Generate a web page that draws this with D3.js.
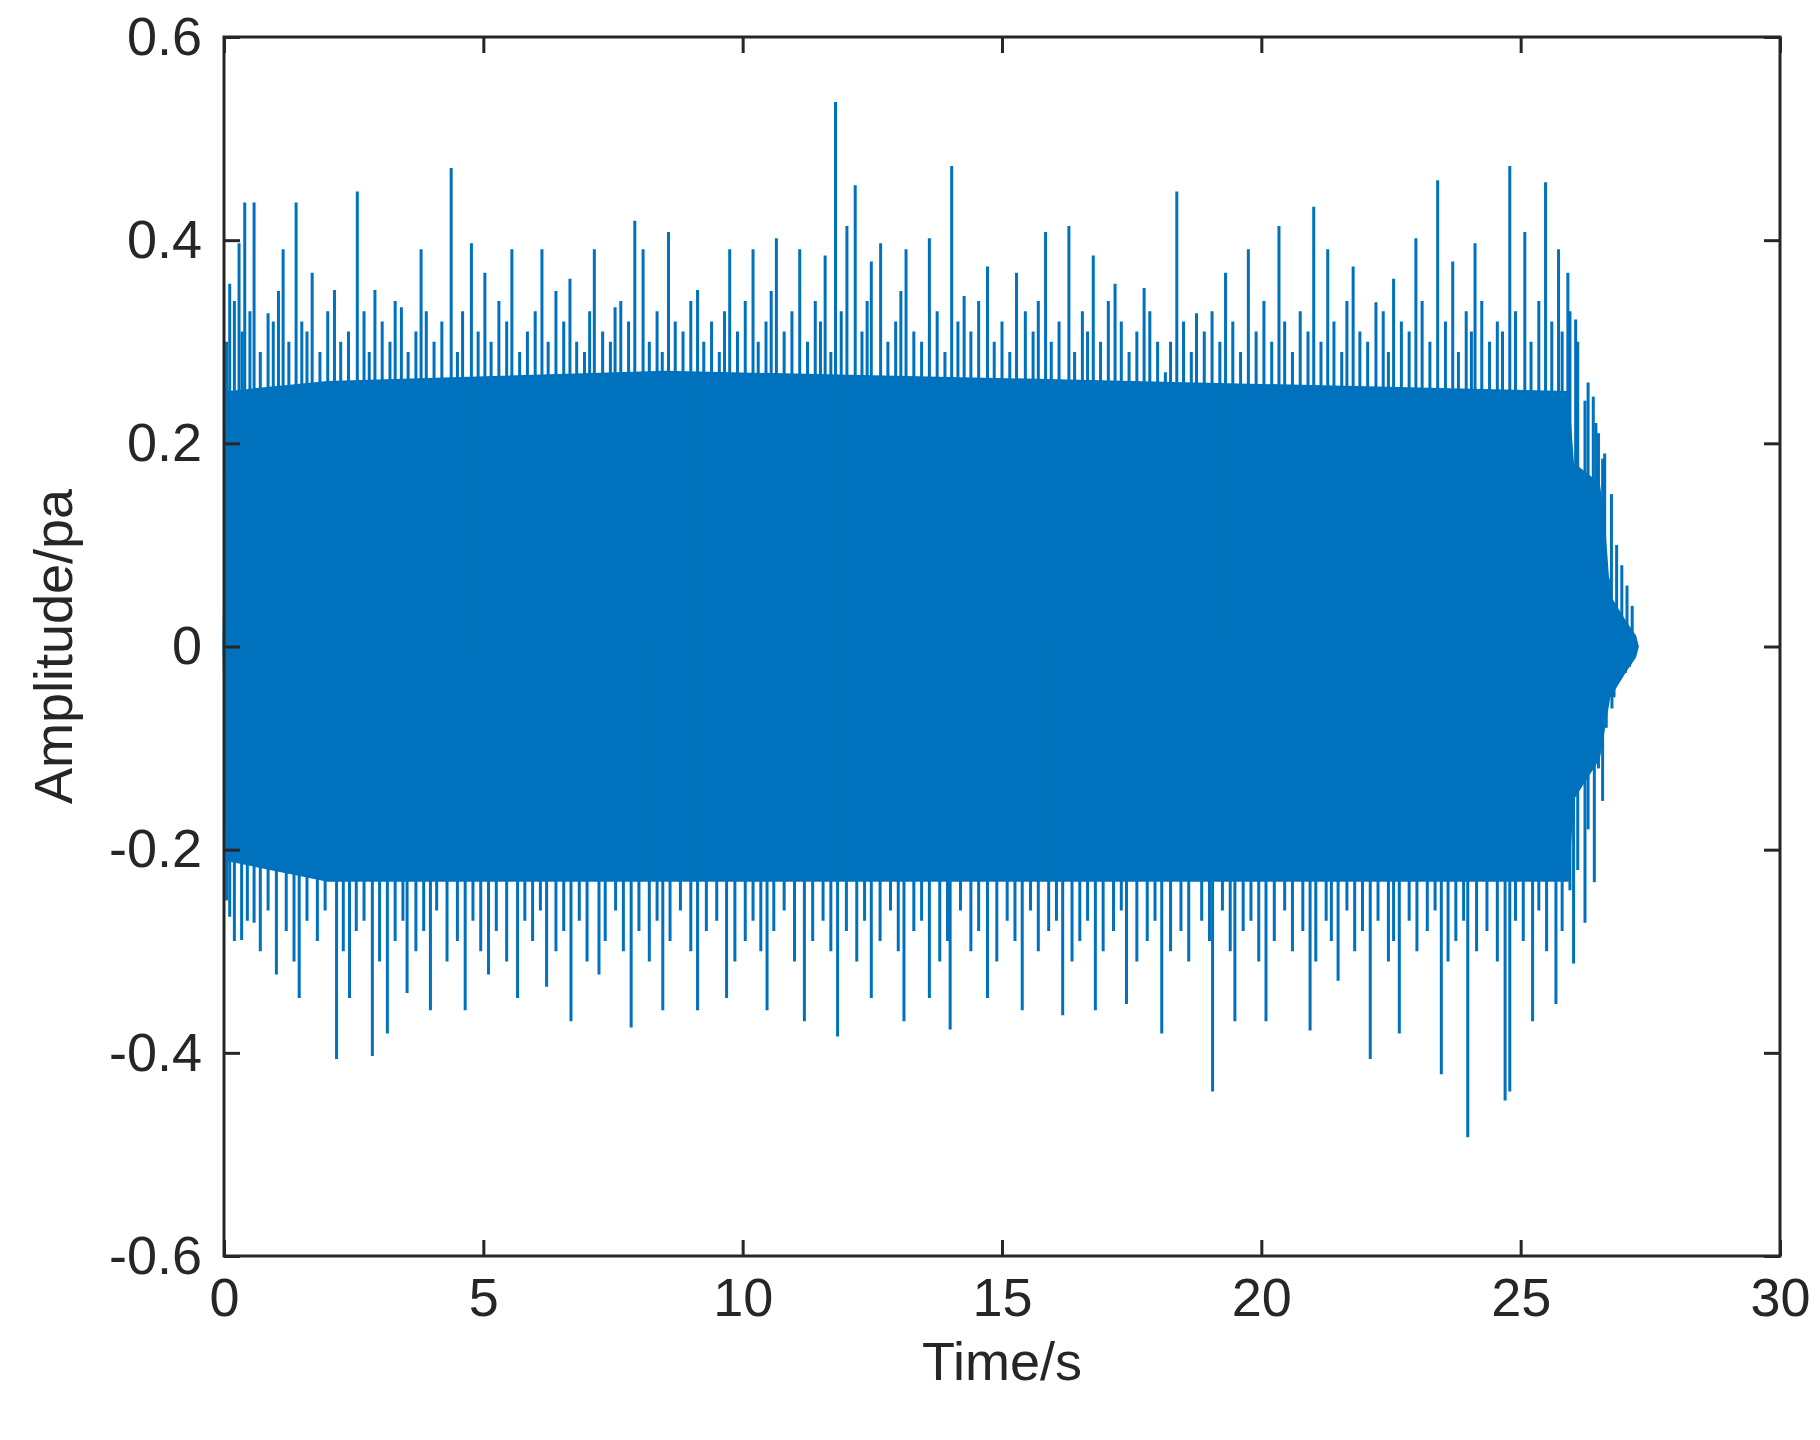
<!DOCTYPE html><html><head><meta charset="utf-8"><script src="https://cdn.jsdelivr.net/npm/d3@7"></script>
<style>body{margin:0;background:#fff}text{font-family:"Liberation Sans",Arial,sans-serif;fill:#262626}</style></head><body><svg id="c" width="1820" height="1440"></svg><script>
const xTicks=[0,5,10,15,20,25,30];
const yTicks=[-0.6,-0.4,-0.2,0,0.2,0.4,0.6];
const upT=[0.11,0.29,0.40,0.58,0.85,1.14,1.39,1.70,2.13,2.57,2.91,3.42,3.80,4.38,4.77,5.03,5.55,6.13,6.67,7.14,7.54,7.92,8.08,8.57,9.13,9.75,10.20,10.65,11.10,11.59,11.79,12.01,12.17,12.48,12.66,13.15,13.60,14.03,14.27,14.72,15.28,15.84,16.29,16.76,17.18,17.74,18.37,18.75,19.31,19.75,20.34,21.01,21.28,21.77,22.21,22.55,22.98,23.40,23.69,24.12,24.79,25.08,25.48,25.73,25.91,26.06,26.24,26.40,26.58,26.69];
const upV=[0.357,0.397,0.437,0.437,0.328,0.391,0.437,0.368,0.351,0.448,0.351,0.334,0.391,0.471,0.397,0.368,0.391,0.391,0.362,0.391,0.334,0.419,0.391,0.408,0.351,0.391,0.391,0.402,0.391,0.385,0.536,0.414,0.454,0.379,0.397,0.391,0.402,0.473,0.345,0.374,0.368,0.408,0.414,0.385,0.357,0.353,0.448,0.328,0.368,0.391,0.414,0.433,0.391,0.374,0.339,0.362,0.402,0.459,0.379,0.397,0.473,0.408,0.457,0.391,0.368,0.322,0.242,0.246,0.185,0.067];
const loT=[0.11,0.34,0.58,1.01,1.45,2.17,2.42,2.86,3.15,3.53,3.98,4.65,5.10,5.66,6.22,6.69,7.23,7.85,8.46,9.13,9.69,10.47,11.19,11.83,12.48,13.11,13.60,14.00,14.72,15.39,16.17,16.80,17.40,18.08,19.06,19.49,20.09,20.94,21.48,22.10,22.66,23.47,23.98,24.70,24.79,25.23,25.68,26.02,26.24,26.42,26.58,26.76,27.02];
const loV=[-0.266,-0.289,-0.272,-0.323,-0.346,-0.406,-0.346,-0.403,-0.381,-0.341,-0.358,-0.358,-0.323,-0.346,-0.335,-0.369,-0.323,-0.375,-0.358,-0.358,-0.346,-0.358,-0.369,-0.384,-0.346,-0.369,-0.346,-0.377,-0.346,-0.358,-0.363,-0.358,-0.352,-0.381,-0.438,-0.369,-0.369,-0.378,-0.329,-0.406,-0.381,-0.421,-0.483,-0.447,-0.438,-0.369,-0.352,-0.312,-0.272,-0.232,-0.152,-0.061,-0.026];
// moderate peaks forming the ragged edge of the dense band
const midUpT=[0.05,0.2,0.35,0.5,0.7,0.95,1.05,1.25,1.5,1.6,1.85,2.0,2.25,2.4,2.7,2.8,3.05,3.2,3.3,3.55,3.7,3.9,4.05,4.2,4.5,4.6,4.9,5.15,5.3,5.45,5.7,5.85,6.0,6.25,6.4,6.55,6.8,6.95,7.05,7.3,7.45,7.65,7.8,8.2,8.35,8.45,8.7,8.85,9.0,9.25,9.4,9.55,9.65,9.9,10.05,10.3,10.45,10.55,10.8,10.95,11.25,11.4,11.5,11.7,11.9,12.3,12.4,12.8,12.95,13.05,13.3,13.45,13.75,13.9,14.15,14.4,14.55,14.85,15.0,15.15,15.45,15.6,15.7,15.95,16.1,16.4,16.55,16.65,16.9,17.05,17.3,17.45,17.6,17.85,18.0,18.15,18.25,18.5,18.65,18.9,19.05,19.2,19.45,19.6,19.9,20.05,20.2,20.45,20.6,20.75,20.9,21.15,21.4,21.55,21.65,21.9,22.05,22.35,22.45,22.7,22.85,23.1,23.25,23.55,23.8,23.95,24.05,24.25,24.4,24.55,24.65,24.9,25.2,25.35,25.6,25.8,25.95,26.1,26.3,26.45,26.5,26.62,26.75,26.85,26.95,27.05,27.15];
const midUpV=[0.30,0.34,0.31,0.33,0.29,0.32,0.35,0.30,0.32,0.31,0.29,0.33,0.30,0.31,0.33,0.29,0.32,0.30,0.34,0.29,0.31,0.33,0.30,0.32,0.29,0.33,0.31,0.30,0.34,0.32,0.29,0.31,0.33,0.30,0.35,0.32,0.30,0.29,0.33,0.31,0.30,0.34,0.32,0.30,0.33,0.29,0.32,0.31,0.34,0.30,0.32,0.29,0.33,0.31,0.34,0.30,0.32,0.35,0.31,0.33,0.30,0.34,0.32,0.29,0.33,0.31,0.34,0.30,0.32,0.35,0.31,0.30,0.33,0.29,0.32,0.31,0.34,0.30,0.32,0.29,0.33,0.31,0.34,0.30,0.32,0.29,0.33,0.31,0.30,0.34,0.32,0.29,0.31,0.33,0.30,0.27,0.30,0.32,0.29,0.31,0.33,0.30,0.32,0.29,0.31,0.34,0.30,0.32,0.29,0.33,0.31,0.30,0.32,0.29,0.34,0.31,0.30,0.33,0.29,0.32,0.31,0.34,0.30,0.32,0.29,0.33,0.31,0.34,0.30,0.32,0.31,0.33,0.30,0.34,0.32,0.31,0.33,0.30,0.26,0.22,0.21,0.19,0.15,0.10,0.08,0.06,0.04,0.03,0.02];
const midLoT=[0.05,0.2,0.45,0.7,0.85,1.2,1.35,1.6,1.8,1.95,2.3,2.55,2.7,3.0,3.3,3.45,3.7,3.85,4.1,4.3,4.5,4.8,4.95,5.25,5.45,5.8,5.95,6.1,6.4,6.55,6.85,7.0,7.35,7.55,7.7,8.0,8.2,8.35,8.6,8.8,9.0,9.3,9.5,9.85,10.05,10.2,10.35,10.6,10.8,11.0,11.35,11.55,11.7,12.0,12.2,12.35,12.65,12.85,13.0,13.3,13.45,13.8,13.95,14.2,14.4,14.55,14.9,15.1,15.25,15.55,15.7,15.9,16.05,16.35,16.5,16.65,16.95,17.15,17.3,17.6,17.8,17.95,18.25,18.45,18.6,18.85,19.0,19.25,19.4,19.65,19.8,19.95,20.25,20.45,20.6,20.8,21.05,21.25,21.35,21.65,21.8,21.95,22.25,22.45,22.55,22.85,23.0,23.2,23.35,23.6,23.75,23.9,24.15,24.35,24.55,24.9,25.05,25.35,25.5,25.8,25.95,26.1,26.3,26.5,26.65,26.8,26.9,27.1];
const midLoV=[-0.25,-0.29,-0.27,-0.30,-0.26,-0.28,-0.31,-0.27,-0.29,-0.26,-0.30,-0.28,-0.27,-0.31,-0.29,-0.27,-0.30,-0.28,-0.26,-0.31,-0.29,-0.27,-0.30,-0.28,-0.31,-0.27,-0.29,-0.26,-0.30,-0.28,-0.27,-0.31,-0.29,-0.26,-0.30,-0.28,-0.31,-0.27,-0.29,-0.26,-0.30,-0.28,-0.27,-0.31,-0.29,-0.27,-0.30,-0.28,-0.26,-0.31,-0.29,-0.27,-0.30,-0.28,-0.31,-0.27,-0.29,-0.26,-0.30,-0.28,-0.27,-0.31,-0.29,-0.26,-0.30,-0.28,-0.31,-0.27,-0.29,-0.26,-0.30,-0.28,-0.27,-0.31,-0.29,-0.27,-0.30,-0.28,-0.26,-0.31,-0.29,-0.27,-0.30,-0.28,-0.31,-0.27,-0.29,-0.26,-0.30,-0.28,-0.27,-0.31,-0.29,-0.26,-0.30,-0.28,-0.31,-0.27,-0.29,-0.26,-0.30,-0.28,-0.27,-0.31,-0.29,-0.27,-0.30,-0.28,-0.26,-0.31,-0.29,-0.27,-0.30,-0.28,-0.31,-0.27,-0.29,-0.26,-0.30,-0.28,-0.24,-0.22,-0.18,-0.12,-0.08,-0.05,-0.03,-0.02];
const coreT=[0,0.07,2,8.5,17.5,25.9,26.0,26.5,26.6,26.7,27.0,27.2,27.25];
const coreHi=[0,0.25,0.26,0.27,0.26,0.25,0.18,0.16,0.12,0.05,0.025,0.01,0];
const coreLo=[0,-0.21,-0.23,-0.23,-0.23,-0.23,-0.15,-0.11,-0.08,-0.05,-0.025,-0.01,0];

const L=224,R=1780,T=37,B=1256;
const x=d3.scaleLinear().domain([0,30]).range([L,R]);
const y=d3.scaleLinear().domain([-0.6,0.6]).range([B,T]);
const svg=d3.select("#c");
const col="#0072BD";
const core=coreT.map((t,i)=>({t,h:coreHi[i],l:coreLo[i]}));
svg.append("path").datum(core).attr("fill",col).attr("stroke",col).attr("stroke-width",3)
 .attr("d",d3.area().x(d=>x(d.t)).y0(d=>y(d.l)).y1(d=>y(d.h)));
const spikes=upT.map((t,i)=>[t,upV[i]]).concat(loT.map((t,i)=>[t,loV[i]]),
  midUpT.map((t,i)=>[t,midUpV[i]]),midLoT.map((t,i)=>[t,midLoV[i]]));
const ln=d3.line().x(d=>x(d[0])).y(d=>y(d[1]));
svg.selectAll(".s").data(spikes).enter().append("path").attr("fill","none").attr("stroke",col).attr("stroke-width",3)
 .attr("d",d=>ln([[d[0],0],[d[0],d[1]]]));
const g=svg.append("g");
const tl=16;
const ax=(a,tr)=>g.append("g").attr("transform",tr).call(a).call(s=>{s.select(".domain").remove();s.selectAll("line").attr("stroke","#262626").attr("stroke-width",3);s.selectAll("text").attr("font-size",54).style("fill","#262626");});
ax(d3.axisBottom(x).tickValues(xTicks).tickSize(-tl).tickPadding(22).tickFormat(d3.format("d")),`translate(0,${B})`);
ax(d3.axisTop(x).tickValues(xTicks).tickSize(-tl).tickFormat(""),`translate(0,${T})`);
ax(d3.axisLeft(y).tickValues(yTicks).tickSize(-tl).tickPadding(22).tickFormat(d=>d===0?"0":(d<0?"-":"")+d3.format(".1f")(Math.abs(d))),`translate(${L},0)`);
ax(d3.axisRight(y).tickValues(yTicks).tickSize(-tl).tickFormat(""),`translate(${R},0)`);
g.append("rect").attr("x",L).attr("y",T).attr("width",R-L).attr("height",B-T).attr("fill","none").attr("stroke","#262626").attr("stroke-width",3);
svg.append("text").attr("x",(L+R)/2).attr("y",1380).attr("text-anchor","middle").attr("font-size",54).text("Time/s");
svg.append("text").attr("transform",`translate(72,${(T+B)/2}) rotate(-90)`).attr("text-anchor","middle").attr("font-size",54).text("Amplitude/pa");
</script></body></html>
